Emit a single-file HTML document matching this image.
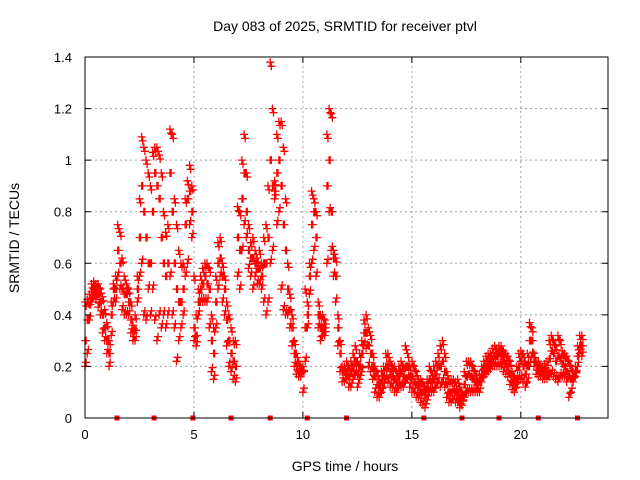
<!DOCTYPE html>
<html><head><meta charset="utf-8"><style>body{margin:0;background:#fff}svg{display:block;font-family:"Liberation Sans",sans-serif}</style></head>
<body>
<svg id="chart" width="640" height="480" viewBox="0 0 640 480" xmlns="http://www.w3.org/2000/svg">
<rect width="640" height="480" fill="#fff"/>
<text x="345" y="31" font-size="14" text-anchor="middle">Day 083 of 2025, SRMTID for receiver ptvl</text>
<text transform="translate(19,238) rotate(-90)" font-size="14" text-anchor="middle">SRMTID / TECUs</text>
<text x="345" y="471" font-size="14" text-anchor="middle">GPS time / hours</text>
<g id="grid"></g><g id="marks"></g><g id="axes"></g>
</svg>
<script>
const xTicks=[0,5,10,15,20];
const yTicks=[0,0.2,0.4,0.6,0.8,1,1.2,1.4];
const yTickLabels=["0","0.2","0.4","0.6","0.8","1","1.2","1.4"];
const tStart=0, tStep=0.1;
const hiVals=[.45,.46,.48,.52,.53,.52,.52,.50,.47,.42,
.37,.30,.45,.52,.55,.75,.72,.62,.55,.52,
.50,.45,.36,.40,.55,.85,1.09,1.05,1.00,.95,
.90,1.03,1.05,1.05,1.02,.95,.80,.72,.75,1.12,
1.10,.85,.75,.65,.60,.60,.85,.92,.98,.90,
.55,.40,.50,.55,.58,.60,.60,.58,.40,.35,
.55,.68,.70,.60,.55,.45,.40,.35,.30,.30,
.82,.80,1.00,1.10,.95,.75,.68,.70,.65,.62,
.65,.60,.70,.75,.90,1.38,1.20,.92,1.10,1.15,
1.15,1.05,.85,.60,.48,.40,.30,.25,.22,.20,
.20,.50,.45,.60,.88,.85,.80,.45,.40,.40,
.38,1.10,1.20,1.18,.65,.62,.40,.30,.20,.20,
.22,.20,.22,.25,.28,.22,.25,.30,.38,.40,
.35,.32,.25,.20,.18,.15,.18,.20,.25,.25,
.22,.20,.20,.18,.20,.22,.20,.28,.25,.20,
.22,.20,.18,.15,.15,.14,.12,.15,.20,.18,
.20,.22,.25,.28,.30,.25,.18,.15,.15,.15,
.14,.15,.12,.10,.18,.22,.22,.22,.20,.18,
.15,.17,.20,.22,.24,.25,.25,.27,.28,.27,
.28,.28,.26,.25,.24,.22,.18,.16,.20,.25,
.26,.25,.22,.25,.37,.35,.25,.22,.22,.20,
.20,.21,.22,.30,.32,.30,.28,.32,.30,.26,
.25,.24,.22,.20,.18,.20,.28,.32,.32];
const midVals=[.30,.38,.44,.49,.50,.50,.48,.45,.40,.35,
.30,.25,.40,.50,.50,.65,.60,.50,.48,.48,
.45,.38,.33,.34,.50,.70,.90,.80,.70,.60,
.60,.80,.95,.90,.85,.70,.60,.55,.60,.95,
.80,.60,.50,.45,.45,.50,.75,.85,.88,.80,
.35,.32,.45,.50,.52,.55,.52,.50,.30,.25,
.45,.60,.62,.55,.50,.38,.30,.25,.22,.20,
.70,.65,.85,.95,.80,.65,.62,.62,.60,.58,
.58,.55,.60,.60,.70,1.00,.90,.88,.95,1.00,
.90,.75,.65,.50,.42,.35,.25,.20,.18,.18,
.18,.35,.40,.55,.75,.80,.70,.40,.35,.35,
.35,.90,1.00,.80,.62,.55,.35,.25,.18,.18,
.18,.16,.18,.20,.22,.17,.20,.25,.33,.33,
.28,.25,.20,.16,.13,.12,.14,.16,.20,.20,
.18,.16,.15,.14,.16,.18,.16,.20,.20,.16,
.16,.14,.13,.12,.10,.10,.09,.12,.15,.14,
.15,.17,.20,.20,.22,.18,.13,.10,.10,.11,
.10,.10,.08,.07,.13,.16,.17,.16,.15,.14,
.13,.14,.17,.19,.20,.22,.22,.23,.24,.24,
.25,.24,.22,.21,.20,.17,.14,.13,.15,.20,
.22,.20,.17,.20,.30,.30,.22,.20,.20,.18,
.18,.18,.18,.23,.26,.25,.22,.24,.23,.21,
.20,.18,.16,.15,.16,.18,.24,.28,.28];
const loVals=[.20,.25,.38,.45,.47,.46,.43,.40,.33,.30,
.25,.20,.32,.45,.45,.55,.50,.42,.40,.40,
.40,.33,.30,.30,.45,.55,.60,.40,.38,.50,
.40,.50,.38,.30,.40,.35,.40,.35,.40,.55,
.40,.35,.22,.30,.35,.40,.55,.60,.75,.70,
.30,.28,.40,.45,.45,.45,.45,.35,.18,.15,
.35,.50,.55,.45,.40,.28,.20,.18,.15,.14,
.55,.50,.65,.75,.70,.58,.55,.50,.55,.52,
.52,.50,.45,.40,.45,.60,.65,.85,.75,.80,
.50,.42,.40,.40,.35,.28,.20,.17,.16,.16,
.10,.22,.35,.48,.60,.65,.55,.35,.30,.32,
.32,.60,.80,.65,.55,.45,.28,.18,.14,.14,
.15,.12,.12,.15,.17,.12,.15,.18,.28,.27,
.20,.18,.15,.10,.08,.08,.10,.12,.15,.14,
.12,.12,.10,.10,.12,.12,.12,.14,.15,.12,
.10,.10,.08,.08,.06,.05,.04,.07,.10,.10,
.10,.12,.14,.12,.14,.12,.08,.06,.06,.07,
.06,.06,.04,.05,.08,.10,.10,.10,.10,.10,
.10,.10,.14,.16,.17,.18,.19,.20,.20,.20,
.20,.20,.18,.17,.16,.13,.11,.10,.12,.15,
.15,.14,.12,.14,.20,.24,.20,.17,.16,.16,
.15,.15,.15,.16,.17,.16,.15,.14,.16,.16,
.16,.14,.08,.10,.14,.16,.20,.25,.24];
const gapTimes=[1.47,3.17,4.95,6.7,8.5,10.2,12.0,15.55,17.3,19.0,20.8,22.6];

const X0=85,X1=608,Y0=418,Y1=57,XMAX=24,YMAX=1.4;
const xs=t=>X0+(X1-X0)*t/XMAX;
const ys=v=>Y0-(Y0-Y1)*v/YMAX;
const NS="http://www.w3.org/2000/svg";
function mk(tag,attrs,parent){const e=document.createElementNS(NS,tag);for(const k in attrs)e.setAttribute(k,attrs[k]);parent.appendChild(e);return e;}
const grid=document.getElementById('grid'),marks=document.getElementById('marks'),axes=document.getElementById('axes');
xTicks.forEach(t=>{
 if(t>0){const g=mk('line',{x1:xs(t),x2:xs(t),y1:Y0,y2:Y1,stroke:'#a0a0a0','stroke-dasharray':'2,3'},grid);
 
 }
 const tk=mk('path',{d:`M${xs(t)},${Y0}v-6M${xs(t)},${Y1}v6`,stroke:'#000'},axes);
 
 
 const l=mk('text',{x:xs(t),y:Y0+21,'font-size':13,'text-anchor':'middle'},axes);l.textContent=String(t);
 
 
});
yTicks.forEach((v,i)=>{
 if(v>0&&v<YMAX){const g=mk('line',{x1:X0,x2:X1,y1:ys(v),y2:ys(v),stroke:'#a0a0a0','stroke-dasharray':'2,3'},grid);
 
 }
 const tk=mk('path',{d:`M${X0},${ys(v)}h6M${X1},${ys(v)}h-6`,stroke:'#000'},axes);
 
 
 const l=mk('text',{x:X0-13,y:ys(v)+5,'font-size':13,'text-anchor':'end'},axes);l.textContent=yTickLabels[i];
 
 
});
const fr=mk('rect',{x:X0,y:Y1,width:X1-X0,height:Y0-Y1,fill:'none',stroke:'#000'},axes);


let d='';
[hiVals,midVals,loVals].forEach((arr,k)=>arr.forEach((v,i)=>{
 [0,0.5].forEach(o=>{
  const x=xs(tStart+(i+o)*tStep),y=ys(v)+(o?(k===0?4:k===2?-4:0):0);
  d+=`M${(x-4).toFixed(1)},${y.toFixed(1)}h8M${x.toFixed(1)},${(y-4).toFixed(1)}v8`;
 });
}));
const p=mk('path',{d:d,stroke:'#ff0000','stroke-width':1.3,fill:'none'},marks);


gapTimes.forEach(t=>{
 const r=mk('rect',{x:xs(t)-2.5,y:Y0-2.5,width:5,height:5,fill:'#ff0000'},marks);
 
 
});
</script>
</body></html>
